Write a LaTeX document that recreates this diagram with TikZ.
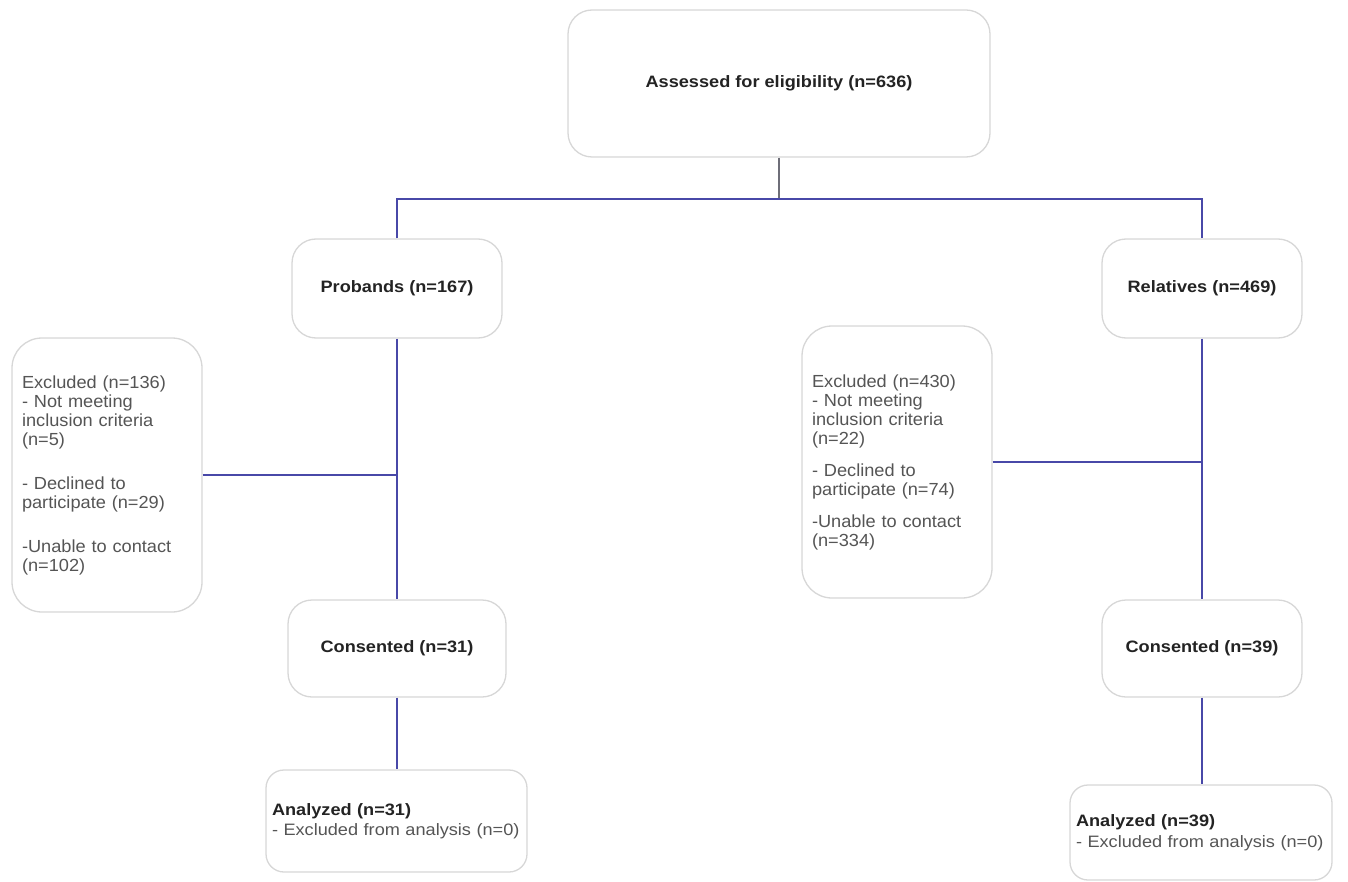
\documentclass[tikz,border=0pt]{standalone}
\usepackage{fontspec}
\setmainfont{Liberation Sans}[FakeStretch=1.1]
\newfontfamily\exclfont{Liberation Sans}[FakeStretch=1.04]
\definecolor{boxgray}{RGB}{215,215,215}
\definecolor{linkblue}{RGB}{72,72,168}
\definecolor{stemgray}{RGB}{110,110,120}
\definecolor{bodytxt}{RGB}{85,85,85}
\definecolor{headtxt}{RGB}{35,35,35}
\begin{document}
\begin{tikzpicture}[x=1pt,y=-1pt,
    box/.style={draw=boxgray,line width=1.3pt,rounded corners=24pt,fill=white,text=bodytxt,font=\fontsize{16.5}{18.5}\selectfont},
    title/.style={box,text=headtxt,font=\fontsize{16.5}{18.5}\selectfont\bfseries},
    excl/.style={box,align=left,text width=170pt,inner xsep=10pt,rounded corners=30pt,font=\exclfont\fontsize{17.5}{19}\selectfont},
    result/.style={box,align=left,inner xsep=6pt,rounded corners=18pt},
    link/.style={draw=linkblue,line width=1.4pt}]
    \useasboundingbox (0,0) rectangle (1348,882);
    \node[title,minimum width=422pt,minimum height=147pt] (assess) at (779,83.5) {Assessed for eligibility (n=636)};
    \node[title,minimum width=210pt,minimum height=99pt] (probands) at (397,288.5) {Probands (n=167)};
    \node[title,minimum width=200pt,minimum height=99pt] (relatives) at (1202,288.5) {Relatives (n=469)};
    \node[excl,minimum height=274pt] (exl) at (107,475) {Excluded (n=136)\\- Not meeting\\inclusion criteria\\(n=5)\\[25pt]- Declined to\\participate (n=29)\\[25pt]-Unable to contact\\(n=102)};
    \node[excl,minimum height=272pt] (exr) at (897,462) {Excluded (n=430)\\- Not meeting\\inclusion criteria\\(n=22)\\[13pt]- Declined to\\participate (n=74)\\[13pt]-Unable to contact\\(n=334)};
    \node[title,minimum width=218pt,minimum height=97pt] (conl) at (397,648.5) {Consented (n=31)};
    \node[title,minimum width=200pt,minimum height=97pt] (conr) at (1202,648.5) {Consented (n=39)};
    \node[result,text width=249pt,minimum height=102pt] (anl) at (396.5,821) {\textcolor{headtxt}{\bfseries Analyzed (n=31)}\\[2pt]- Excluded from analysis (n=0)};
    \node[result,text width=250pt,minimum height=95pt] (anr) at (1201,832.5) {\textcolor{headtxt}{\bfseries Analyzed (n=39)}\\[2pt]- Excluded from analysis (n=0)};
    \coordinate (split) at (779,199);
    \draw[stemgray,line width=1.3pt] (assess) -- (split);
    \draw[link] (probands) -- (probands |- split) -- (relatives |- split) -- (relatives);
    \draw[link] (probands) -- (conl);
    \draw[link] (exl) -- (exl -| probands);
    \draw[link] (conl) -- (conl |- anl.north);
    \draw[link] (relatives) -- (conr);
    \draw[link] (exr) -- (exr -| relatives);
    \draw[link] (conr) -- (conr |- anr.north);
\end{tikzpicture}
\end{document}
